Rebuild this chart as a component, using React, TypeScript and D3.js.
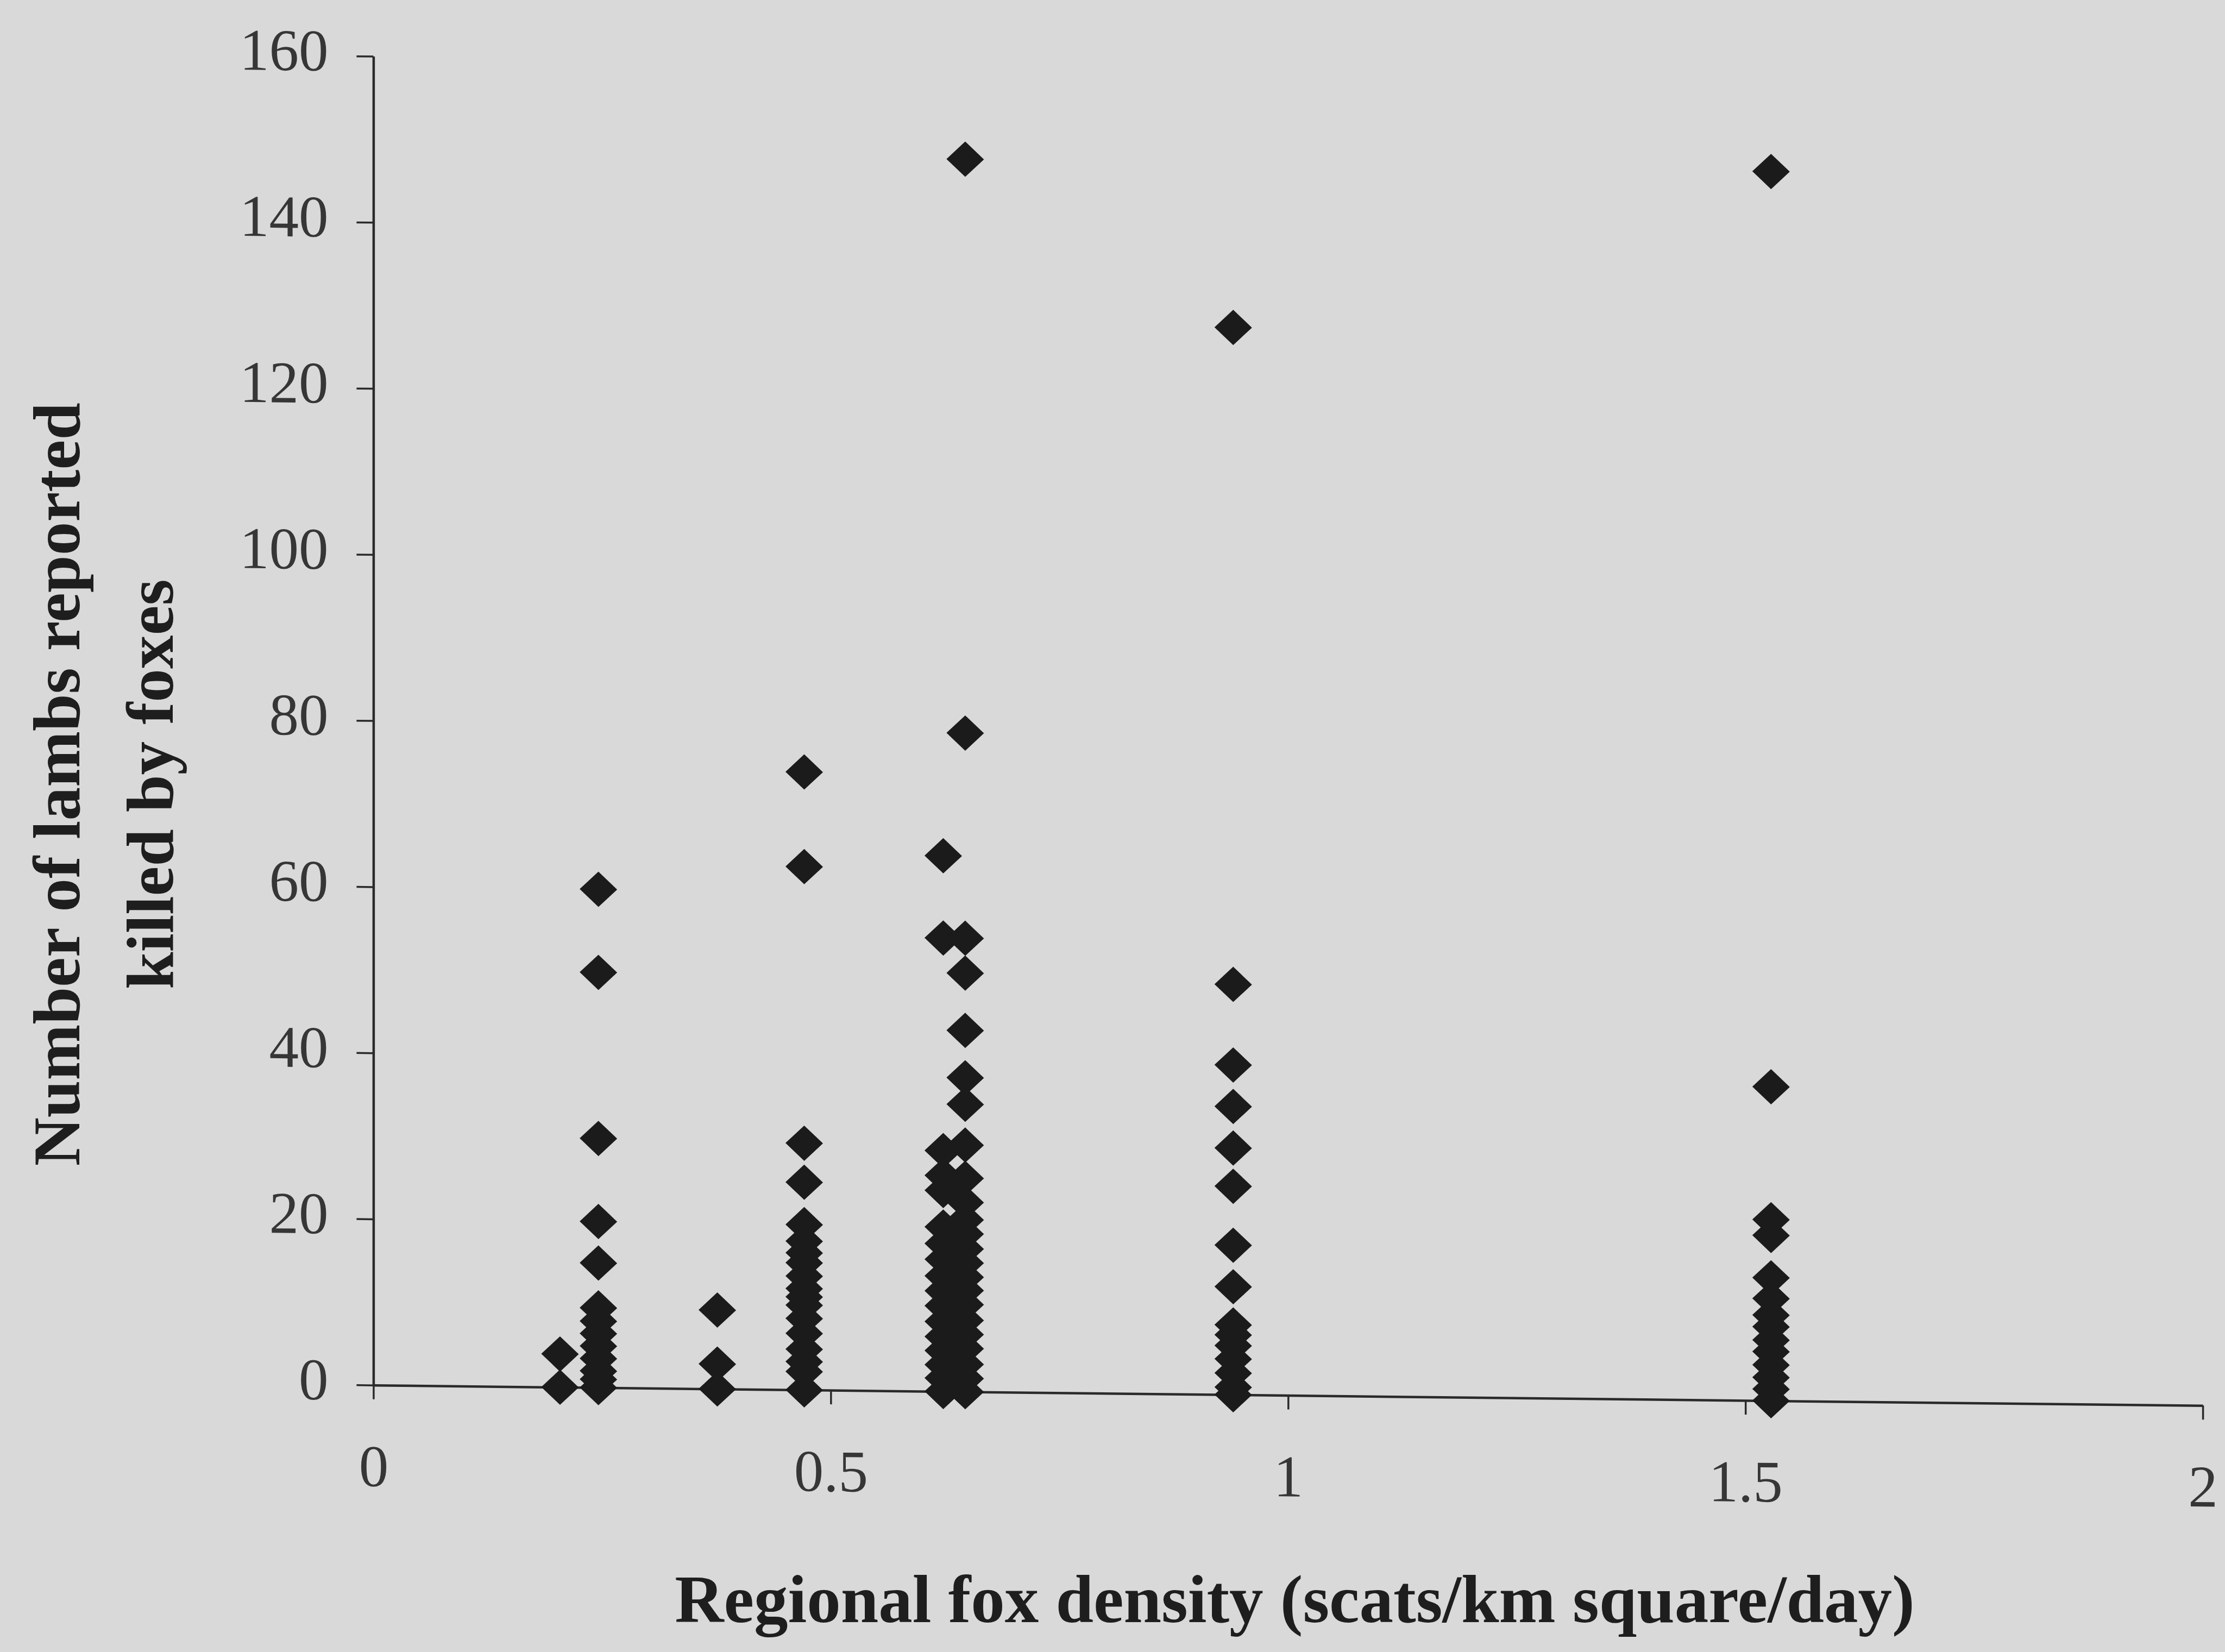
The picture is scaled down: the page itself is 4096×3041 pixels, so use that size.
import React, { useEffect, useRef } from 'react';
import * as d3 from 'd3';

const W = 4096;
const H = 3041;

// Regional fox density at each site group (scats/km square/day)
const siteDensity = [0.204, 0.246, 0.376, 0.471, 0.623, 0.647, 0.94, 1.528];

// Lambs reported killed by foxes, one list per site group
const killsA = [4, 0];
const killsB = [60, 50, 30, 20, 15, 9.6, 8, 6.5, 5, 3.5, 2, 1, 0];
const killsC = [9.5, 3, 0];
const killsD = [74.4, 63, 29.7, 25, 19.9, 17.9, 16.5, 15.3, 13.7, 12.2, 11.2, 10.2, 8.6, 6.8, 4.9, 3.4, 2.2, 0];
const killsE = [64.5, 54.6, 29, 26, 24.2, 19.8, 17.8, 15.9, 13.9, 12.1, 10.3, 8.4, 6.6, 4.9, 3.2, 1.6, 0];
const killsF = [148.4, 79.3, 54.6, 50.4, 43.5, 37.8, 34.6, 29.7, 25.7, 22.8, 20.7, 19, 17.2, 15.5, 13.8, 12.2, 10.5, 8.6, 6.9, 5.2, 3.3, 1.6, 0];
const killsG = [128.5, 49.4, 39.7, 34.7, 29.7, 25.1, 18, 13, 8.4, 7.2, 5.9, 4.3, 2.6, 0.9, 0];
const killsH = [148, 37.8, 21.8, 19.9, 14.8, 12.3, 10.3, 8.9, 7.3, 5.9, 4.3, 2.8, 1.4, 0];

const lambsKilled = [killsA, killsB, killsC, killsD, killsE, killsF, killsG, killsH];

const xTicks = [0, 0.5, 1, 1.5, 2];
const yTicks = [0, 20, 40, 60, 80, 100, 120, 140, 160];

const xTitle = 'Regional fox density (scats/km square/day)';
const yTitleLines = ['Number of lambs reported', 'killed by foxes'];

const SERIF = "'Liberation Serif', 'Times New Roman', Times, serif";

// Filled diamond marker, slightly wider than tall
const diamond = {
  draw(ctx: any, size: number) {
    const r = Math.sqrt(size / 2);
    const rx = r * 1.03;
    const ry = r * 0.97;
    ctx.moveTo(0, -ry);
    ctx.lineTo(rx, 0);
    ctx.lineTo(0, ry);
    ctx.lineTo(-rx, 0);
    ctx.closePath();
  },
};

export default function App() {
  const ref = useRef<SVGSVGElement>(null);

  useEffect(() => {
    const svg = d3.select(ref.current);
    svg.selectAll('*').remove();

    const x0 = 687.4;
    const x1 = 4055.1;
    const yBottom = 2549.7;
    const yTop = 103.5;

    const x = d3.scaleLinear().domain([0, 2]).range([x0, x1]);
    const y = d3.scaleLinear().domain([0, 160]).range([yBottom, yTop]);

    svg
      .append('rect')
      .attr('width', W)
      .attr('height', H)
      .attr('fill', '#d9d9d9');

    // the printed plot frame leans slightly: the x axis drops toward the right
    const plot = svg
      .append('g')
      .attr('transform', `translate(${x0},${yBottom}) skewY(0.64) translate(${-x0},${-yBottom})`);

    const axisColor = '#2a2a2a';

    const gx = plot
      .append('g')
      .attr('transform', `translate(0,${yBottom})`)
      .call(
        d3
          .axisBottom(x)
          .tickValues(xTicks)
          .tickSize(26)
          .tickSizeOuter(0)
          .tickFormat((d: any) => String(d))
      );

    const gy = plot
      .append('g')
      .attr('transform', `translate(${x0},0)`)
      .call(
        d3
          .axisLeft(y)
          .tickValues(yTicks)
          .tickSize(31)
          .tickSizeOuter(0)
          .tickFormat((d: any) => String(d))
      );

    [gx, gy].forEach((g) => {
      g.attr('font-family', SERIF).attr('font-size', 109);
      g.select('.domain').attr('stroke', axisColor).attr('stroke-width', 4.5);
      g.selectAll('.tick line').attr('stroke', axisColor).attr('stroke-width', 3.5);
      g.selectAll('.tick text').attr('fill', '#363636');
    });

    gx.selectAll('.tick text').attr('y', 186).attr('dy', 0);
    gy.selectAll('.tick text').attr('x', -83).attr('y', 27).attr('dy', 0);

    const points = siteDensity.flatMap((d, i) => lambsKilled[i].map((v) => ({ d, v })));
    const sym = d3.symbol().type(diamond as any).size(2 * 33.5 * 33.5);

    plot
      .append('g')
      .selectAll('path')
      .data(points)
      .join('path')
      .attr('d', sym as any)
      .attr('transform', (p: any) => `translate(${x(p.d)},${y(p.v)})`)
      .attr('fill', '#1b1b1b');

    svg
      .append('text')
      .attr('x', 2383.5)
      .attr('y', 2985.5)
      .attr('text-anchor', 'middle')
      .attr('font-family', SERIF)
      .attr('font-weight', 'bold')
      .attr('font-size', 125)
      .attr('fill', '#1e1e1e')
      .text(xTitle);

    const baselines = [146.2, 317.8];
    yTitleLines.forEach((line, i) => {
      svg
        .append('text')
        .attr('transform', `translate(${baselines[i]},1443.7) rotate(-90)`)
        .attr('text-anchor', 'middle')
        .attr('font-family', SERIF)
        .attr('font-weight', 'bold')
        .attr('font-size', 123.5)
        .attr('fill', '#1e1e1e')
        .text(line);
    });
  }, []);

  return (
    <svg
      ref={ref}
      width={W}
      height={H}
      style={{ position: 'absolute', left: 0, top: 0, display: 'block' }}
    />
  );
}
